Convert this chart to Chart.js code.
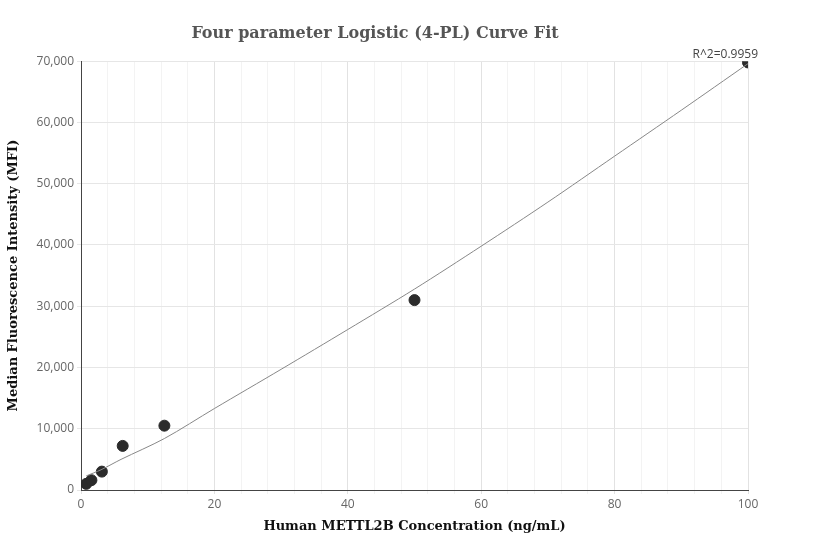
<!DOCTYPE html><html><head><script src="https://cdn.jsdelivr.net/npm/chart.js@4"></script>
<style>body{margin:0;background:#fff}#w{width:832px;height:560px}</style></head><body><div id="w"><canvas id="c"></canvas></div>
<script>
const concX=[0.78,1.56,3.125,6.25,12.5,50,100];
const mfiY=[1000,1600,3000,7200,10500,31000,69800];
const fitX=[0.78,3,6,12.5,20,30,40,50,60,70,80,90,100];
const fitY=[2300,3300,5000,8400,13300,19700,26200,32800,39800,47000,54500,62000,69600];
const r2Label='R^2=0.9959';
const lbl={id:'lbl',afterDraw(ch){const c=ch.ctx,x=ch.scales.x,y=ch.scales.y;c.save();c.font='12px "Open Sans"';c.fillStyle='#444';c.textAlign='right';c.textBaseline='bottom';c.fillText(r2Label,x.getPixelForValue(100)+10,y.getPixelForValue(69800)-2);c.restore();}};
new Chart(document.getElementById('c'),{type:'scatter',plugins:[lbl],data:{datasets:[
{type:'line',data:fitX.map((v,i)=>({x:v,y:fitY[i]})),borderColor:'#888',borderWidth:1,pointRadius:0,tension:0.3},
{data:concX.map((v,i)=>({x:v,y:mfiY[i]})),backgroundColor:'#2b2b2b',borderColor:'#2b2b2b',pointRadius:5.5}]},
options:{responsive:true,maintainAspectRatio:false,animation:false,layout:{padding:{left:2,right:84,top:10,bottom:22}},
plugins:{legend:{display:false},tooltip:{enabled:false},title:{display:true,text:'Four parameter Logistic (4-PL) Curve Fit',font:{family:'DejaVu Serif',size:16,weight:'bold'},color:'#555',padding:{top:14,bottom:18}}},
scales:{x:{type:'linear',min:0,max:100,ticks:{stepSize:4,autoSkip:false,maxRotation:0,color:'#666',font:{family:'Open Sans',size:12},callback:v=>v%20===0?v:''},grid:{color:c=>c.tick&&c.tick.value%20===0?'#e2e2e2':'#f3f3f3',tickLength:4},border:{color:'#444'},title:{display:true,text:'Human METTL2B Concentration (ng/mL)',font:{family:'DejaVu Serif',size:13,weight:'bold'},color:'#111'}},
y:{min:0,max:70000,ticks:{stepSize:10000,color:'#666',font:{family:'Open Sans',size:12},callback:v=>v.toLocaleString('en-US')},grid:{color:'#e6e6e6',tickLength:4},border:{color:'#444'},title:{display:true,text:'Median Fluorescence Intensity (MFI)',font:{family:'DejaVu Serif',size:13,weight:'bold'},color:'#111',padding:{bottom:12}}}}}});
</script></body></html>
